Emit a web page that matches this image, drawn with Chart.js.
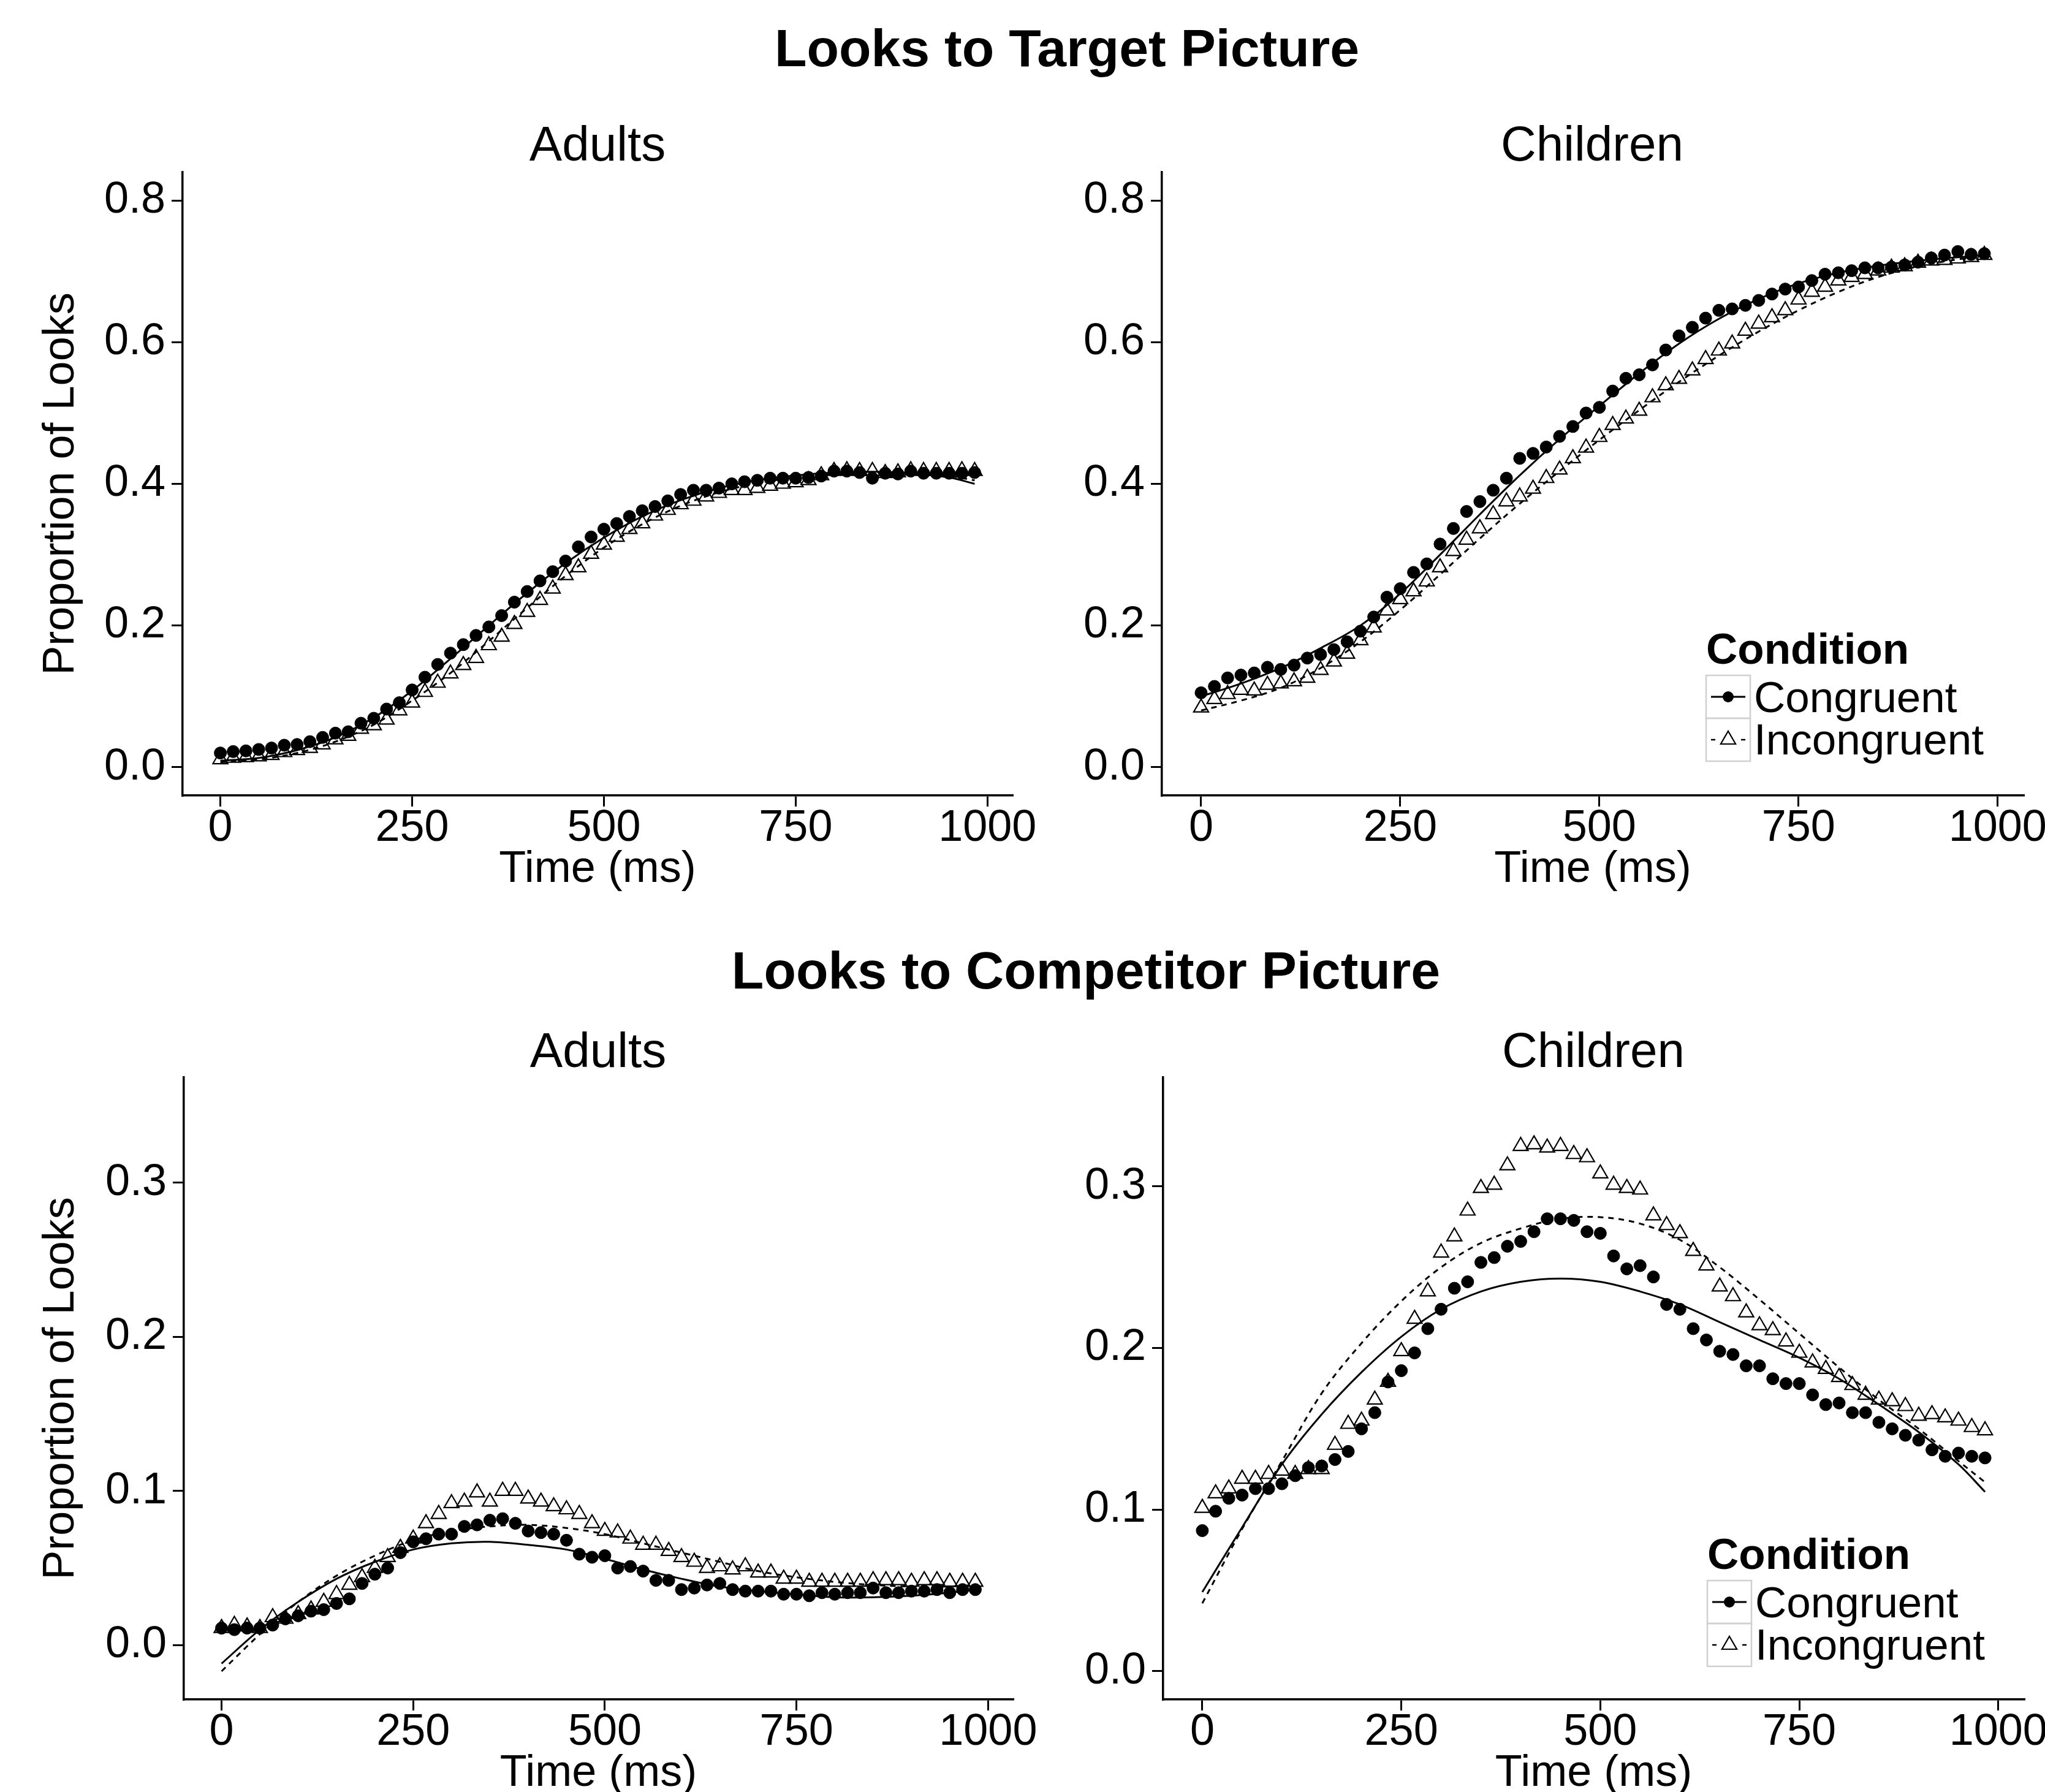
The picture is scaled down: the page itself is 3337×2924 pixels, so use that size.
<!DOCTYPE html>
<html>
<head>
<meta charset="utf-8">
<title>Looks to Target / Competitor Picture</title>
<script src="https://cdn.jsdelivr.net/npm/chart.js@4/dist/chart.umd.min.js"></script>
<style>
  html, body { margin: 0; padding: 0; background: #fff; overflow: hidden; }
  body { width: 3337px; height: 2924px; position: relative; font-family: "Liberation Sans", Arial, Helvetica, sans-serif; }
  canvas { position: absolute; }
  .title { position: absolute; transform: translate(-50%, -50%); line-height: 1; white-space: nowrap; color: #000; }
  .main { font-weight: bold; font-size: 86px; }
  .panel { font-size: 80px; }
</style>
</head>
<body>
<div class="title main" style="left:1741px; top:78px">Looks to Target Picture</div>
<div class="title panel" style="left:975px; top:235px">Adults</div>
<div class="title panel" style="left:2598px; top:235px">Children</div>
<div class="title main" style="left:1772px; top:1583px">Looks to Competitor Picture</div>
<div class="title panel" style="left:976px; top:1714px">Adults</div>
<div class="title panel" style="left:2600px; top:1714px">Children</div>

<canvas id="tl"></canvas>
<canvas id="tr"></canvas>
<canvas id="bl"></canvas>
<canvas id="br"></canvas>

<script>
// Time of each observed sample (ms)
const times = [0, 16.7, 33.3, 50, 66.7, 83.3, 100, 116.7, 133.3, 150, 166.7, 183.3, 200, 216.7, 233.3,
  250, 266.7, 283.3, 300, 316.7, 333.3, 350, 366.7, 383.3, 400, 416.7, 433.3, 450, 466.7, 483.3,
  500, 516.7, 533.3, 550, 566.7, 583.3, 600, 616.7, 633.3, 650, 666.7, 683.3, 700, 716.7, 733.3,
  750, 766.7, 783.3, 800, 816.7, 833.3, 850, 866.7, 883.3, 900, 916.7, 933.3, 950, 966.7, 983.3];

// Times at which the fitted curves were read
const fitTimes = [0, 50, 100, 150, 200, 250, 300, 350, 400, 450, 500, 550, 600, 650, 700, 750, 800, 850, 900, 950, 983.3];

const xTicks = [0, 250, 500, 750, 1000];
const yTicksTarget = [0, 0.2, 0.4, 0.6, 0.8];
const yTicksCompetitor = [0, 0.1, 0.2, 0.3];

const legendTitle = "Condition";
const legendLabels = ["Congruent", "Incongruent"];

// Looks to target, adults
const targetAdultsCong = [0.020, 0.022, 0.023, 0.025, 0.027, 0.031, 0.032, 0.036, 0.042, 0.048,
  0.050, 0.062, 0.069, 0.082, 0.091, 0.109, 0.127, 0.145, 0.161, 0.173,
  0.186, 0.198, 0.214, 0.233, 0.248, 0.263, 0.276, 0.291, 0.311, 0.325,
  0.336, 0.344, 0.354, 0.362, 0.368, 0.376, 0.385, 0.391, 0.391, 0.394,
  0.400, 0.403, 0.405, 0.408, 0.408, 0.408, 0.409, 0.411, 0.418, 0.418,
  0.416, 0.408, 0.415, 0.414, 0.418, 0.415, 0.415, 0.415, 0.415, 0.416];
const targetAdultsInc = [0.011, 0.013, 0.014, 0.015, 0.017, 0.021, 0.024, 0.027, 0.032, 0.039,
  0.044, 0.054, 0.059, 0.067, 0.080, 0.091, 0.106, 0.119, 0.132, 0.144,
  0.154, 0.172, 0.184, 0.202, 0.219, 0.236, 0.252, 0.271, 0.282, 0.301,
  0.314, 0.325, 0.336, 0.344, 0.355, 0.363, 0.371, 0.376, 0.382, 0.387,
  0.391, 0.391, 0.394, 0.397, 0.400, 0.402, 0.405, 0.412, 0.418, 0.419,
  0.418, 0.418, 0.415, 0.416, 0.419, 0.418, 0.418, 0.418, 0.419, 0.418];
const targetAdultsFitCong = [0.009, 0.013, 0.024, 0.042, 0.070, 0.108, 0.153, 0.200, 0.246, 0.288, 0.324,
  0.354, 0.377, 0.394, 0.405, 0.412, 0.416, 0.417, 0.415, 0.409, 0.400];
const targetAdultsFitInc = [0.007, 0.011, 0.020, 0.036, 0.060, 0.094, 0.133, 0.178, 0.225, 0.270, 0.310,
  0.343, 0.369, 0.388, 0.401, 0.409, 0.414, 0.416, 0.415, 0.411, 0.405];

// Looks to target, children
const targetChildCong = [0.105, 0.114, 0.126, 0.130, 0.133, 0.141, 0.138, 0.144, 0.154, 0.159,
  0.166, 0.177, 0.192, 0.212, 0.240, 0.252, 0.275, 0.287, 0.315, 0.337,
  0.361, 0.375, 0.391, 0.408, 0.436, 0.443, 0.452, 0.467, 0.481, 0.500,
  0.508, 0.531, 0.549, 0.554, 0.568, 0.589, 0.609, 0.621, 0.634, 0.645,
  0.647, 0.652, 0.659, 0.668, 0.675, 0.678, 0.687, 0.696, 0.698, 0.701,
  0.705, 0.705, 0.706, 0.709, 0.713, 0.719, 0.723, 0.728, 0.724, 0.725];
const targetChildInc = [0.084, 0.096, 0.103, 0.109, 0.108, 0.116, 0.118, 0.121, 0.126, 0.137,
  0.149, 0.160, 0.179, 0.197, 0.221, 0.237, 0.248, 0.262, 0.282, 0.305,
  0.321, 0.337, 0.357, 0.375, 0.382, 0.393, 0.408, 0.420, 0.436, 0.451,
  0.466, 0.483, 0.492, 0.503, 0.522, 0.539, 0.548, 0.560, 0.576, 0.588,
  0.598, 0.616, 0.626, 0.635, 0.645, 0.660, 0.671, 0.678, 0.687, 0.692,
  0.696, 0.701, 0.705, 0.707, 0.712, 0.715, 0.716, 0.718, 0.720, 0.723];
const targetChildFitCong = [0.100, 0.118, 0.140, 0.168, 0.200, 0.245, 0.300, 0.357, 0.412, 0.463, 0.510,
  0.556, 0.598, 0.633, 0.661, 0.683, 0.698, 0.708, 0.715, 0.720, 0.723];
const targetChildFitInc = [0.080, 0.094, 0.112, 0.140, 0.177, 0.222, 0.272, 0.323, 0.372, 0.418, 0.462,
  0.504, 0.544, 0.581, 0.615, 0.645, 0.671, 0.692, 0.707, 0.717, 0.721];

// Looks to competitor, adults
const compAdultsCong = [0.011, 0.010, 0.011, 0.011, 0.013, 0.017, 0.019, 0.022, 0.023, 0.027,
  0.030, 0.040, 0.046, 0.050, 0.060, 0.067, 0.069, 0.072, 0.072, 0.077,
  0.078, 0.081, 0.082, 0.079, 0.074, 0.073, 0.072, 0.068, 0.059, 0.057,
  0.058, 0.050, 0.051, 0.048, 0.042, 0.042, 0.036, 0.037, 0.039, 0.040,
  0.036, 0.035, 0.035, 0.035, 0.033, 0.033, 0.032, 0.034, 0.033, 0.034,
  0.034, 0.037, 0.034, 0.034, 0.035, 0.035, 0.036, 0.034, 0.036, 0.036];
const compAdultsInc = [0.011, 0.013, 0.012, 0.011, 0.018, 0.017, 0.020, 0.023, 0.028, 0.033,
  0.039, 0.044, 0.050, 0.057, 0.063, 0.069, 0.079, 0.085, 0.092, 0.093,
  0.099, 0.093, 0.100, 0.100, 0.095, 0.093, 0.090, 0.088, 0.085, 0.079,
  0.074, 0.073, 0.069, 0.065, 0.065, 0.061, 0.057, 0.054, 0.050, 0.051,
  0.049, 0.051, 0.047, 0.047, 0.043, 0.043, 0.041, 0.041, 0.041, 0.041,
  0.041, 0.042, 0.042, 0.042, 0.041, 0.042, 0.042, 0.041, 0.041, 0.041];
const compAdultsFitCong = [-0.012, 0.010, 0.028, 0.043, 0.054, 0.062, 0.066, 0.067, 0.065, 0.062, 0.056,
  0.049, 0.043, 0.038, 0.035, 0.033, 0.031, 0.031, 0.032, 0.034, 0.036];
const compAdultsFitInc = [-0.017, 0.007, 0.028, 0.045, 0.058, 0.068, 0.074, 0.077, 0.078, 0.076, 0.072,
  0.066, 0.060, 0.054, 0.048, 0.044, 0.041, 0.039, 0.038, 0.038, 0.039];

// Looks to competitor, children
const compChildCong = [0.087, 0.099, 0.107, 0.109, 0.113, 0.113, 0.116, 0.121, 0.126, 0.127,
  0.131, 0.136, 0.150, 0.160, 0.179, 0.186, 0.197, 0.212, 0.224, 0.237,
  0.241, 0.253, 0.256, 0.263, 0.266, 0.272, 0.280, 0.280, 0.279, 0.272,
  0.271, 0.257, 0.249, 0.251, 0.244, 0.227, 0.224, 0.212, 0.205, 0.198,
  0.196, 0.189, 0.189, 0.181, 0.178, 0.178, 0.171, 0.165, 0.166, 0.160,
  0.160, 0.154, 0.150, 0.146, 0.143, 0.137, 0.133, 0.135, 0.133, 0.132];
const compChildInc = [0.101, 0.110, 0.113, 0.119, 0.119, 0.122, 0.124, 0.122, 0.125, 0.125,
  0.140, 0.153, 0.155, 0.168, 0.179, 0.198, 0.218, 0.235, 0.259, 0.269,
  0.285, 0.299, 0.301, 0.313, 0.325, 0.326, 0.324, 0.325, 0.320, 0.318,
  0.308, 0.301, 0.299, 0.298, 0.282, 0.276, 0.271, 0.260, 0.251, 0.238,
  0.232, 0.222, 0.214, 0.211, 0.204, 0.197, 0.191, 0.187, 0.182, 0.177,
  0.171, 0.168, 0.167, 0.164, 0.158, 0.159, 0.157, 0.155, 0.151, 0.149];
const compChildFitCong = [0.049, 0.089, 0.128, 0.159, 0.185, 0.207, 0.224, 0.235, 0.241, 0.243, 0.241,
  0.235, 0.227, 0.216, 0.205, 0.194, 0.181, 0.165, 0.148, 0.128, 0.111];
const compChildFitInc = [0.042, 0.088, 0.130, 0.172, 0.203, 0.229, 0.250, 0.265, 0.274, 0.280, 0.281,
  0.277, 0.267, 0.250, 0.230, 0.209, 0.188, 0.168, 0.150, 0.130, 0.117];

const FONT = "'Liberation Sans', Arial, Helvetica, sans-serif";
Chart.defaults.font.family = FONT;
Chart.defaults.color = "#000";

// draws the "Condition" key like ggplot's legend
const conditionLegend = {
  id: "conditionLegend",
  afterDraw(chart) {
    const ctx = chart.ctx;
    const bx = chart.chartArea.left + 888;
    const by = chart.chartArea.top + 821;
    ctx.save();
    ctx.fillStyle = "#000";
    ctx.textAlign = "left";
    ctx.textBaseline = "alphabetic";
    ctx.font = "bold 71px " + FONT;
    ctx.fillText(legendTitle, bx, by - 19);

    // key boxes
    ctx.strokeStyle = "#d0d0d0";
    ctx.lineWidth = 2.5;
    ctx.strokeRect(bx, by, 72, 70);
    ctx.strokeRect(bx, by + 70, 72, 70);

    // congruent: solid line + filled dot
    ctx.strokeStyle = "#000";
    ctx.lineWidth = 3;
    ctx.beginPath();
    ctx.moveTo(bx + 8, by + 35);
    ctx.lineTo(bx + 64, by + 35);
    ctx.stroke();
    ctx.beginPath();
    ctx.arc(bx + 36, by + 35, 9, 0, Math.PI * 2);
    ctx.fill();

    // incongruent: dashed line + open triangle
    ctx.lineWidth = 2.5;
    ctx.beginPath();
    ctx.moveTo(bx + 8, by + 105);
    ctx.lineTo(bx + 15, by + 105);
    ctx.moveTo(bx + 57, by + 105);
    ctx.lineTo(bx + 64, by + 105);
    ctx.stroke();
    const r = 14, cx = bx + 36, cy = by + 105;
    ctx.beginPath();
    ctx.moveTo(cx, cy - r);
    ctx.lineTo(cx + r * Math.sin(2 * Math.PI / 3), cy + r / 2);
    ctx.lineTo(cx - r * Math.sin(2 * Math.PI / 3), cy + r / 2);
    ctx.closePath();
    ctx.lineWidth = 2.2;
    ctx.stroke();

    ctx.font = "71px " + FONT;
    ctx.fillText(legendLabels[0], bx + 78, by + 60);
    ctx.fillText(legendLabels[1], bx + 78, by + 129);
    ctx.restore();
  }
};

function toPoints(xs, ys) {
  return xs.map((x, i) => ({ x: x, y: ys[i] }));
}

function drawPanel(id, box, yMin, yMax, yTicks, cong, inc, fitCong, fitInc, showYTitle, showLegend) {
  const canvas = document.getElementById(id);
  canvas.width = box.w;
  canvas.height = box.h;
  canvas.style.left = box.x + "px";
  canvas.style.top = box.y + "px";

  new Chart(canvas, {
    type: "scatter",
    data: {
      datasets: [
        { label: "fit congruent", data: toPoints(fitTimes, fitCong), showLine: true, tension: 0.35,
          borderColor: "#000", borderWidth: 3, pointRadius: 0, fill: false },
        { label: "fit incongruent", data: toPoints(fitTimes, fitInc), showLine: true, tension: 0.35,
          borderColor: "#000", borderWidth: 3, borderDash: [9, 8], pointRadius: 0, fill: false },
        { label: legendLabels[1], data: toPoints(times, inc), pointStyle: "triangle", pointRadius: 14,
          borderColor: "#000", borderWidth: 2.2, backgroundColor: "rgba(0,0,0,0)" },
        { label: legendLabels[0], data: toPoints(times, cong), pointStyle: "circle", pointRadius: 10,
          borderColor: "#000", borderWidth: 1, backgroundColor: "#000" },
      ],
    },
    options: {
      responsive: false,
      animation: false,
      devicePixelRatio: 1,
      events: [],
      layout: { padding: { left: 0, top: box.padTop, right: box.padRight, bottom: 0 } },
      plugins: { legend: { display: false }, tooltip: { enabled: false }, title: { display: false } },
      scales: {
        x: {
          type: "linear",
          min: -49.2,
          max: 1032.5,
          afterBuildTicks: (s) => { s.ticks = xTicks.map((v) => ({ value: v })); },
          afterFit: (s) => {
            s.height = box.xAxisH;
            s.paddingLeft = 0; s.paddingRight = 0; s.paddingTop = 0; s.paddingBottom = 0;
          },
          grid: { display: true, drawOnChartArea: false, drawTicks: true, tickLength: 18,
            tickWidth: 3, tickColor: "#000", color: "#000", lineWidth: 3 },
          border: { display: true, color: "#000", width: 3.5 },
          ticks: { color: "#000", font: { size: 72, lineHeight: 1 }, padding: 0,
            maxRotation: 0, minRotation: 0, autoSkip: false, callback: (v) => String(v) },
          title: { display: true, text: "Time (ms)", color: "#000",
            font: { size: 72, lineHeight: 1 }, padding: { top: 0, bottom: 25 } },
        },
        y: {
          type: "linear",
          min: yMin,
          max: yMax,
          afterBuildTicks: (s) => { s.ticks = yTicks.map((v) => ({ value: v })); },
          afterFit: (s) => {
            s.width = box.yAxisW;
            s.paddingLeft = 0; s.paddingRight = 0; s.paddingTop = 0; s.paddingBottom = 0;
          },
          grid: { display: true, drawOnChartArea: false, drawTicks: true, tickLength: 18,
            tickWidth: 3, tickColor: "#000", color: "#000", lineWidth: 3 },
          border: { display: true, color: "#000", width: 3.5 },
          ticks: { color: "#000", font: { size: 72, lineHeight: 1 }, padding: 10,
            autoSkip: false, callback: (v) => v.toFixed(1) },
          title: { display: showYTitle, text: "Proportion of Looks", color: "#000",
            font: { size: 72, lineHeight: 1 }, padding: { top: 64, bottom: 0 } },
        },
      },
    },
    plugins: showLegend ? [conditionLegend] : [],
  });
}

// page boxes of the four canvases and their chart-area margins
drawPanel("tl", { x: 0, y: 260, w: 1740, h: 1220, padTop: 21, padRight: 88, yAxisW: 298, xAxisH: 182 },
  -0.04, 0.84, yTicksTarget, targetAdultsCong, targetAdultsInc, targetAdultsFitCong, targetAdultsFitInc, true, false);
drawPanel("tr", { x: 1740, y: 260, w: 1597, h: 1220, padTop: 21, padRight: 35, yAxisW: 156, xAxisH: 182 },
  -0.04, 0.84, yTicksTarget, targetChildCong, targetChildInc, targetChildFitCong, targetChildFitInc, false, true);
drawPanel("bl", { x: 0, y: 1740, w: 1740, h: 1215, padTop: 18, padRight: 87, yAxisW: 300, xAxisH: 182 },
  -0.0353, 0.3684, yTicksCompetitor, compAdultsCong, compAdultsInc, compAdultsFitCong, compAdultsFitInc, true, false);
drawPanel("br", { x: 1740, y: 1740, w: 1597, h: 1215, padTop: 18, padRight: 34, yAxisW: 158, xAxisH: 182 },
  -0.0175, 0.3675, yTicksCompetitor, compChildCong, compChildInc, compChildFitCong, compChildFitInc, false, true);
</script>
</body>
</html>
